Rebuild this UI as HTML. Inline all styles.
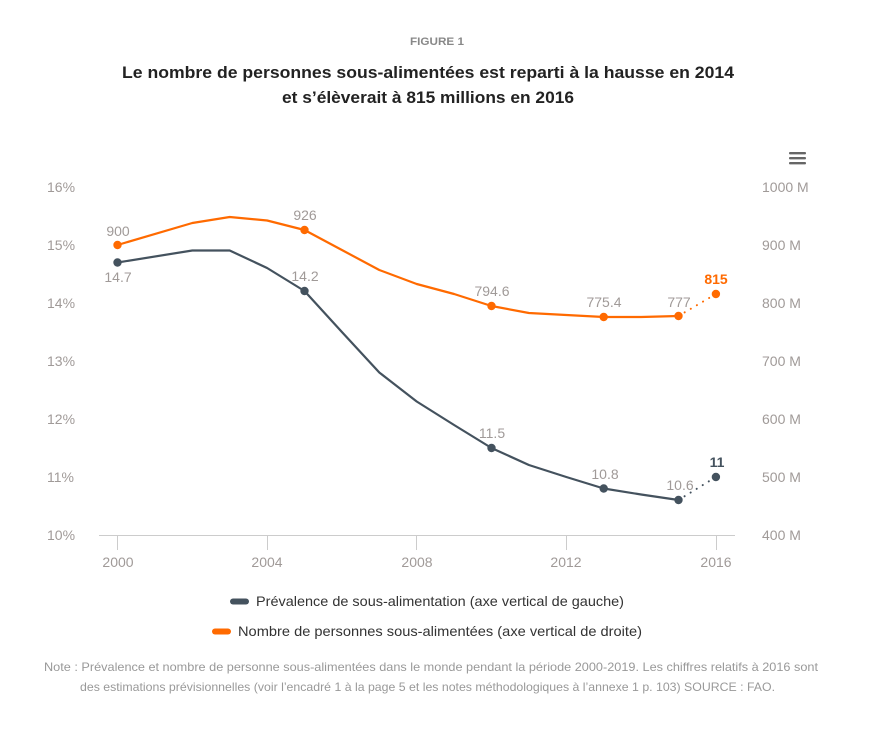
<!DOCTYPE html>
<html><head><meta charset="utf-8"><style>
html,body{margin:0;padding:0;background:#fff;}
svg{display:block;font-family:"Liberation Sans",sans-serif;}
</style></head><body>
<svg width="874" height="735" viewBox="0 0 874 735" xmlns="http://www.w3.org/2000/svg">
<rect width="874" height="735" fill="#fff"/>
<text x="437" y="45" text-anchor="middle" font-size="11" font-weight="bold" fill="#888" textLength="54" lengthAdjust="spacingAndGlyphs">FIGURE 1</text>
<text x="428" y="78" text-anchor="middle" font-size="17" font-weight="bold" fill="#222" textLength="612" lengthAdjust="spacingAndGlyphs">Le nombre de personnes sous-alimentées est reparti à la hausse en 2014</text>
<text x="428" y="103" text-anchor="middle" font-size="17" font-weight="bold" fill="#222" textLength="292" lengthAdjust="spacingAndGlyphs">et s’élèverait à 815 millions en 2016</text>
<!-- menu icon -->
<g fill="#666"><rect x="789" y="152" width="17" height="2.4" rx="1"/><rect x="789" y="157" width="17" height="2.4" rx="1"/><rect x="789" y="162" width="17" height="2.4" rx="1"/></g>
<!-- left axis labels -->
<g font-size="14" fill="#a09a98">
<text x="47" y="192">16%</text><text x="47" y="250">15%</text><text x="47" y="308">14%</text><text x="47" y="366">13%</text><text x="47" y="424">12%</text><text x="47" y="482">11%</text><text x="47" y="540">10%</text>
<text x="762" y="192">1000 M</text><text x="762" y="250">900 M</text><text x="762" y="308">800 M</text><text x="762" y="366">700 M</text><text x="762" y="424">600 M</text><text x="762" y="482">500 M</text><text x="762" y="540">400 M</text>
<g text-anchor="middle"><text x="118" y="567">2000</text><text x="267" y="567">2004</text><text x="417" y="567">2008</text><text x="566" y="567">2012</text><text x="716" y="567">2016</text></g>
</g>
<!-- x axis -->
<line x1="99" y1="535.5" x2="735" y2="535.5" stroke="#ccc" stroke-width="1"/>
<g stroke="#ccc" stroke-width="1"><line x1="117.5" y1="535" x2="117.5" y2="550"/><line x1="267.5" y1="535" x2="267.5" y2="550"/><line x1="416.5" y1="535" x2="416.5" y2="550"/><line x1="566.5" y1="535" x2="566.5" y2="550"/><line x1="716.5" y1="535" x2="716.5" y2="550"/></g>
<!-- orange series -->
<polyline fill="none" stroke="#ff6a00" stroke-width="2.2" stroke-linejoin="round" points="117.5,245 192.3,223 229.7,217 267.1,220.5 304.5,230 341.9,250 379.3,270 416.7,284 454.1,294 491.5,306 528.9,313 566.3,315 603.7,317 641.1,317 678.5,316"/>
<line x1="678.5" y1="316" x2="715.9" y2="294" stroke="#ff6a00" stroke-width="2" stroke-linecap="round" stroke-dasharray="0.1,7"/>
<g fill="#ff6a00"><circle cx="117.5" cy="245" r="4.2"/><circle cx="304.5" cy="230" r="4.2"/><circle cx="491.5" cy="306" r="4.2"/><circle cx="603.7" cy="317" r="4.2"/><circle cx="678.5" cy="316" r="4.2"/><circle cx="715.9" cy="294" r="4.2"/></g>
<!-- gray series -->
<polyline fill="none" stroke="#44525e" stroke-width="2.2" stroke-linejoin="round" points="117.5,262.5 192.3,250.5 229.7,250.5 267.1,268 304.5,291 341.9,332 379.3,372.5 416.7,401.5 454.1,425 491.5,448 528.9,465 566.3,477 603.7,488.5 641.1,494.5 678.5,500"/>
<line x1="678.5" y1="500" x2="715.9" y2="477" stroke="#44525e" stroke-width="2" stroke-linecap="round" stroke-dasharray="0.1,7"/>
<g fill="#44525e"><circle cx="117.5" cy="262.5" r="4.2"/><circle cx="304.5" cy="291" r="4.2"/><circle cx="491.5" cy="448" r="4.2"/><circle cx="603.7" cy="488.5" r="4.2"/><circle cx="678.5" cy="500" r="4.2"/><circle cx="715.9" cy="477" r="4.2"/></g>
<!-- data labels -->
<g font-size="14" fill="#a09a98" text-anchor="middle">
<text x="118" y="236">900</text><text x="118" y="282">14.7</text>
<text x="305" y="220">926</text><text x="305" y="281">14.2</text>
<text x="492" y="296">794.6</text><text x="492" y="438">11.5</text>
<text x="604" y="307">775.4</text><text x="605" y="479">10.8</text>
<text x="679" y="307">777</text><text x="680" y="490">10.6</text>
</g>
<text x="716" y="284" text-anchor="middle" font-size="14" font-weight="bold" fill="#ff6a00">815</text>
<text x="717" y="467" text-anchor="middle" font-size="14" font-weight="bold" fill="#44525e">11</text>
<!-- legend -->
<line x1="233" y1="601.5" x2="246" y2="601.5" stroke="#44525e" stroke-width="6" stroke-linecap="round"/>
<text x="256" y="606" font-size="14" fill="#333" textLength="368" lengthAdjust="spacingAndGlyphs">Prévalence de sous-alimentation (axe vertical de gauche)</text>
<line x1="215" y1="631.5" x2="228" y2="631.5" stroke="#ff6a00" stroke-width="6" stroke-linecap="round"/>
<text x="238" y="636" font-size="14" fill="#333" textLength="404" lengthAdjust="spacingAndGlyphs">Nombre de personnes sous-alimentées (axe vertical de droite)</text>
<!-- note -->
<text x="44" y="671" font-size="12" fill="#999" textLength="774" lengthAdjust="spacingAndGlyphs">Note : Prévalence et nombre de personne sous-alimentées dans le monde pendant la période 2000-2019. Les chiffres relatifs à 2016 sont</text>
<text x="80" y="691" font-size="12" fill="#999" textLength="695" lengthAdjust="spacingAndGlyphs">des estimations prévisionnelles (voir l’encadré 1 à la page 5 et les notes méthodologiques à l’annexe 1 p. 103) SOURCE : FAO.</text>
</svg>
</body></html>
